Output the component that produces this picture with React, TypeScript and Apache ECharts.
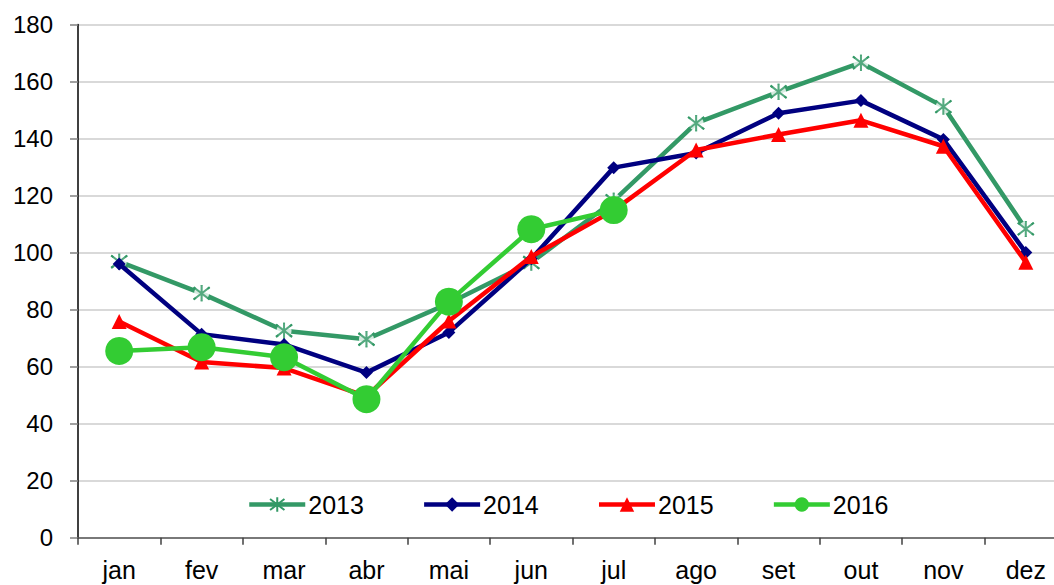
import React, { useEffect, useRef } from "react";
import * as echarts from "echarts";

const months = ["jan", "fev", "mar", "abr", "mai", "jun", "jul", "ago", "set", "out", "nov", "dez"];
const s2013 = [96.8, 85.7, 72.6, 69.6, 82.2, 96.5, 118.2, 145.4, 156.4, 166.6, 151.2, 108.3];
const s2014 = [96.0, 71.4, 67.8, 57.9, 72.0, 97.8, 129.8, 134.9, 148.9, 153.3, 139.7, 100.0];
const s2015 = [75.8, 61.6, 59.5, 49.6, 76.0, 98.6, 114.8, 136.0, 141.4, 146.4, 137.3, 96.6];
const s2016 = [65.5, 66.8, 63.3, 48.6, 82.8, 108.2, 114.9];
const yTicks = { min: 0, max: 180, interval: 20 };

const FONT = "'Liberation Sans', Arial, sans-serif";
const STAR = "path://M0,0L10,10M10,0L0,10M5,-1.5L5,11.5";

export default function App() {
  const ref = useRef<HTMLDivElement>(null);
  useEffect(() => {
    if (!ref.current) return;
    const chart = echarts.init(ref.current, undefined, { renderer: "svg" });
    chart.setOption({
      animation: false,
      backgroundColor: "#ffffff",
      textStyle: { fontFamily: FONT, color: "#000" },
      grid: {
        left: 78,
        top: 24.5,
        width: 989,
        height: 513.2,
        containLabel: false,
        outerBoundsMode: "none",
      },
      legend: {
        left: 242,
        top: 487,
        itemWidth: 56,
        itemHeight: 18,
        itemGap: 58,
        lineStyle: { width: 4.5 },
        textStyle: { fontFamily: FONT, fontSize: 25, color: "#000", padding: [0, 0, 0, -2] },
        data: ["2013", "2014", "2015", "2016"],
      },
      xAxis: {
        type: "category",
        data: months,
        boundaryGap: true,
        axisLine: { lineStyle: { color: "#595959", width: 1.5 } },
        axisTick: { show: true, length: 7, lineStyle: { color: "#404040", width: 1.5 } },
        axisLabel: { fontFamily: FONT, fontSize: 25, color: "#000", margin: 20 },
        splitLine: { show: false },
      },
      yAxis: {
        type: "value",
        min: yTicks.min,
        max: yTicks.max,
        interval: yTicks.interval,
        axisLine: { show: true, lineStyle: { color: "#000", width: 1.5 } },
        axisTick: { show: true, length: 8, lineStyle: { color: "#808080", width: 1.5 } },
        axisLabel: { fontFamily: FONT, fontSize: 24, color: "#000", margin: 25 },
        splitLine: { show: true, lineStyle: { color: "#d9d9d9", width: 2 } },
      },
      series: [
        {
          name: "2013",
          type: "line",
          data: s2013,
          symbol: STAR,
          symbolSize: 16,
          showAllSymbol: true,
          lineStyle: { color: "#339966", width: 4.5 },
          itemStyle: { color: "#ffffff", borderColor: "#339966", borderWidth: 2 },
          z: 2,
        },
        {
          name: "2013-gap",
          type: "scatter",
          data: s2013,
          symbol: "circle",
          symbolSize: 15,
          itemStyle: { color: "#ffffff" },
          silent: true,
          z: 2.1,
        },
        {
          name: "2013-star",
          type: "scatter",
          data: s2013,
          symbol: STAR,
          symbolSize: 16,
          itemStyle: { color: "#ffffff", borderColor: "#339966", borderWidth: 2 },
          silent: true,
          z: 2.2,
        },
        {
          name: "2014",
          type: "line",
          data: s2014,
          symbol: "diamond",
          symbolSize: 13,
          showAllSymbol: true,
          lineStyle: { color: "#000080", width: 4.5 },
          itemStyle: { color: "#000080" },
          z: 3,
        },
        {
          name: "2015",
          type: "line",
          data: s2015,
          symbol: "triangle",
          symbolSize: 15,
          showAllSymbol: true,
          lineStyle: { color: "#ff0000", width: 4.5 },
          itemStyle: { color: "#ff0000" },
          z: 4,
        },
        {
          name: "2016",
          type: "line",
          data: s2016,
          symbol: "circle",
          symbolSize: 28,
          showAllSymbol: true,
          lineStyle: { color: "#33cc33", width: 4.5 },
          itemStyle: { color: "#33cc33" },
          z: 5,
        },
      ],
    });
    return () => chart.dispose();
  }, []);
  return (
    <div
      ref={ref}
      style={{ position: "fixed", left: 0, top: 0, width: 1054, height: 585, background: "#fff" }}
    />
  );
}
